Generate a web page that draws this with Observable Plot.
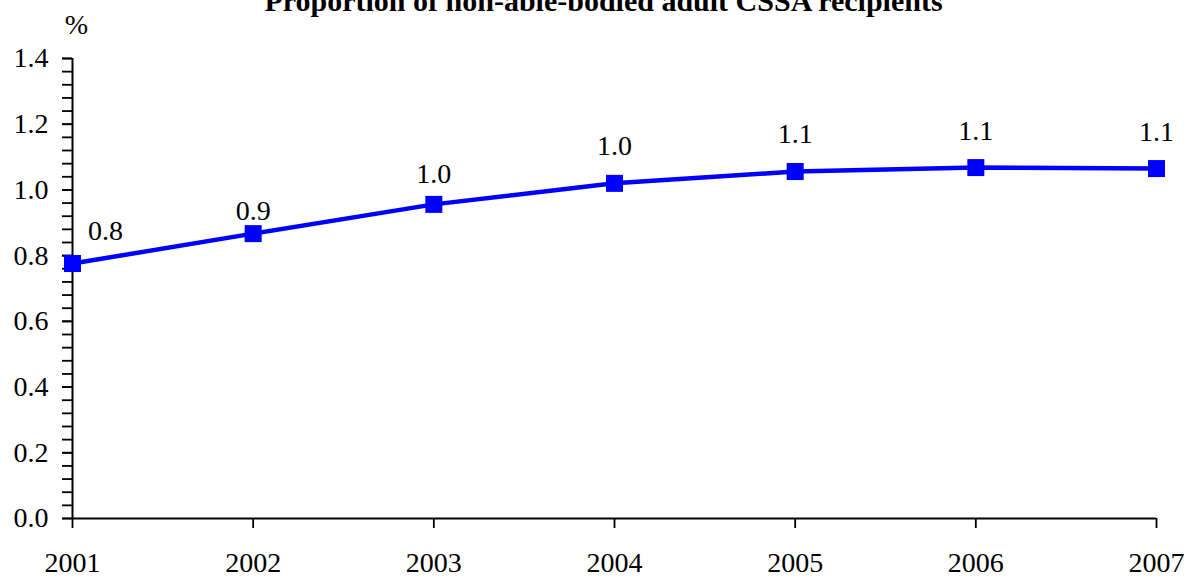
<!DOCTYPE html>
<html>
<head>
<meta charset="utf-8">
<script src="https://cdn.jsdelivr.net/npm/d3@7"></script>
<script src="https://cdn.jsdelivr.net/npm/@observablehq/plot@0.6"></script>
<style>
  html, body { margin: 0; padding: 0; background: #fff; }
  #chart { width: 1188px; height: 577px; overflow: hidden; }
</style>
</head>
<body>
<div id="chart"></div>
<script>
const title = "Proportion of non-able-bodied adult CSSA recipients";
const unitLabel = "%";
const years = [2001, 2002, 2003, 2004, 2005, 2006, 2007];
const values = [0.776, 0.867, 0.956, 1.020, 1.056, 1.068, 1.065];
const yTickValues = [0, 0.2, 0.4, 0.6, 0.8, 1.0, 1.2, 1.4];

const data = years.map((year, i) => ({year, value: values[i], label: values[i].toFixed(1)}));
const minorTicks = d3.range(0, 1.4 + 1e-9, 0.04);
const font = "'Liberation Serif', 'Times New Roman', serif";

const labelMark = (filter, opts) =>
  Plot.text(data, {x: "year", y: "value", text: "label", filter, fontSize: 28, fill: "#000", ...opts});

const plot = Plot.plot({
  width: 1188,
  height: 577,
  marginLeft: 72,
  marginRight: 32,
  marginTop: 58,
  marginBottom: 59,
  style: {fontFamily: font, fontSize: "28px", color: "#000", background: "#fff", overflow: "visible"},
  x: {domain: [2001, 2007]},
  y: {domain: [0, 1.4]},
  marks: [
    Plot.axisY({ticks: minorTicks, tickSize: 10, strokeWidth: 1.8, tickFormat: () => "", label: null}),
    Plot.axisY({ticks: yTickValues, tickSize: 10, tickPadding: 14, strokeWidth: 1.8, tickFormat: d => d.toFixed(1), fontSize: 28, label: null}),
    Plot.axisX({ticks: years, tickSize: 10, tickPadding: 24, strokeWidth: 1.8, tickFormat: d => String(d), fontSize: 28, label: null}),
    Plot.ruleX([2001], {stroke: "#000", strokeWidth: 2}),
    Plot.ruleY([0], {stroke: "#000", strokeWidth: 2}),
    Plot.line(data, {x: "year", y: "value", stroke: "#0000ff", strokeWidth: 4.5}),
    Plot.dot(data, {x: "year", y: "value", symbol: "square", r: 9.6, fill: "#0000ff", stroke: "none"}),
    labelMark(d => d.year === 2001, {dx: 33, dy: -32}),
    labelMark(d => d.year === 2002, {dy: -23}),
    labelMark(d => d.year === 2003, {dy: -30}),
    labelMark(d => d.year >= 2004, {dy: -37}),
    Plot.text([title], {frameAnchor: "top", lineAnchor: "bottom", dx: -11, dy: -48, fontSize: 30, fontWeight: "bold", fill: "#000"}),
    Plot.text([unitLabel], {frameAnchor: "top-left", textAnchor: "middle", lineAnchor: "middle", dx: 4, dy: -33, fontSize: 28, fill: "#000"})
  ]
});
document.getElementById("chart").appendChild(plot);
</script>
</body>
</html>
